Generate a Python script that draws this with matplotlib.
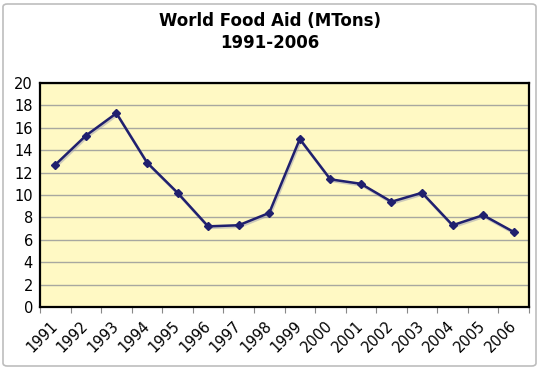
import matplotlib
matplotlib.use("Agg")
import matplotlib.pyplot as plt
from matplotlib.patches import FancyBboxPatch

years = ["1991", "1992", "1993", "1994", "1995", "1996", "1997", "1998",
         "1999", "2000", "2001", "2002", "2003", "2004", "2005", "2006"]
food_aid = [12.7, 15.3, 17.3, 12.9, 10.2, 7.2, 7.3, 8.4,
            15.0, 11.4, 11.0, 9.4, 10.2, 7.3, 8.2, 6.7]
yticks = [0, 2, 4, 6, 8, 10, 12, 14, 16, 18, 20]
title = "World Food Aid (MTons)\n1991-2006"

W, H = 540, 369
fig = plt.figure(figsize=(W / 100, H / 100), dpi=100)
fig.patch.set_facecolor("white")

# outer border
border = FancyBboxPatch((3 / W, 3 / H), (W - 7) / W, (H - 7) / H,
                        boxstyle="round,pad=0,rounding_size=0.008",
                        transform=fig.transFigure, facecolor="none",
                        edgecolor="#BDBDBD", linewidth=1.2)
fig.patches.append(border)

left, right, top, bottom = 40, 529, 83, 307
ax = fig.add_axes([left / W, 1 - bottom / H, (right - left) / W, (bottom - top) / H])
ax.set_facecolor("#FFF9C4")

n = len(years)
x = list(range(n))
ax.plot(x, food_aid, color="#9A9AB0", linewidth=2.0, alpha=0.5,
        transform=ax.transData + matplotlib.transforms.ScaledTranslation(1 / 100, -1.5 / 100, fig.dpi_scale_trans),
        zorder=2)
ax.plot(x, food_aid, color="#20206E", linewidth=1.8, marker="D", markersize=4,
        markerfacecolor="#20206E", markeredgecolor="#20206E", zorder=3)

ax.set_xlim(-0.5, n - 0.5)
ax.set_ylim(0, 20)
ax.set_yticks(yticks)
ax.set_yticklabels([str(v) for v in yticks], fontsize=10.5, color="black")
ax.yaxis.grid(True, color="#A8A8A0", linewidth=1.0)
ax.set_axisbelow(True)
ax.tick_params(axis="y", length=0, pad=5)

# category ticks at boundaries
ax.set_xticks([i - 0.5 for i in range(n + 1)], minor=True)
ax.set_xticks(x)
ax.set_xticklabels(years, rotation=45, ha="right", va="center",
                   rotation_mode="anchor", fontsize=10.5)
ax.tick_params(axis="x", which="major", length=0, pad=12)
ax.tick_params(axis="x", which="minor", length=4, color="#888888", width=0.8)

for s in ax.spines.values():
    s.set_color("black")
    s.set_linewidth(1.6)

fig.text(0.5, 1 - 32 / H, title, ha="center", va="center", fontsize=12,
         fontweight="bold", linespacing=1.25)

fig.savefig("out.png", dpi=100)
